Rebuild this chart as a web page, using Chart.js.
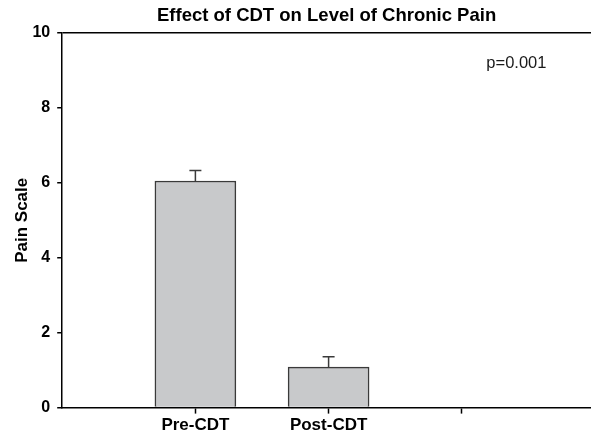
<!DOCTYPE html>
<html>
<head>
<meta charset="utf-8">
<script src="https://cdn.jsdelivr.net/npm/chart.js@4"></script>
<style>
html,body{margin:0;padding:0;background:#fff;overflow:hidden;}
#wrap{width:591px;height:438px;}
</style>
</head>
<body>
<div id="wrap"><canvas id="c"></canvas></div>
<script>
const categories = ['Pre-CDT', 'Post-CDT', ''];
const categoryPositions = [1, 2, 3];
const painMeans = [6.05, 1.08];
const painErrors = [0.28, 0.28];
const yTicks = [0, 2, 4, 6, 8, 10];
const pValueText = 'p=0.001';

const FONT = '"Liberation Sans", Arial, Helvetica, sans-serif';

const errorBars = {
  id: 'errorBars',
  afterDatasetsDraw(chart) {
    const ctx = chart.ctx;
    const ys = chart.scales.y;
    const meta = chart.getDatasetMeta(0);
    ctx.save();
    ctx.strokeStyle = '#3a3a3a';
    ctx.lineWidth = 1.5;
    meta.data.forEach((bar, i) => {
      const top = ys.getPixelForValue(painMeans[i] + painErrors[i]);
      ctx.beginPath();
      ctx.moveTo(bar.x, bar.y);
      ctx.lineTo(bar.x, top);
      ctx.moveTo(bar.x - 6, top);
      ctx.lineTo(bar.x + 6, top);
      ctx.stroke();
    });
    ctx.restore();
  }
};

const pLabel = {
  id: 'pLabel',
  afterDraw(chart) {
    const ctx = chart.ctx;
    const x = chart.scales.x.getPixelForValue(3.41);
    const y = chart.scales.y.getPixelForValue(9.2);
    ctx.save();
    ctx.font = '16.5px ' + FONT;
    ctx.fillStyle = '#1a1a1a';
    ctx.textAlign = 'center';
    ctx.textBaseline = 'middle';
    ctx.fillText(pValueText, x, y);
    ctx.restore();
  }
};

new Chart(document.getElementById('c'), {
  type: 'bar',
  data: {
    datasets: [{
      data: painMeans.map((v, i) => ({ x: categoryPositions[i], y: v })),
      backgroundColor: '#c8c9cb',
      borderColor: '#3a3a3a',
      borderWidth: 1.5,
      barThickness: 81
    }]
  },
  options: {
    responsive: true,
    maintainAspectRatio: false,
    animation: false,
    devicePixelRatio: 1,
    layout: { padding: { left: 0, right: 0, top: 0, bottom: 0 } },
    plugins: {
      legend: { display: false },
      tooltip: { enabled: false },
      title: {
        display: true,
        fullSize: false,
        text: 'Effect of CDT on Level of Chronic Pain',
        color: '#000',
        font: { family: FONT, size: 18.5, weight: 'bold' },
        padding: { top: 5, bottom: 5.8 }
      }
    },
    scales: {
      x: {
        type: 'linear',
        offset: false,
        min: 0,
        max: 3.97,
        afterBuildTicks(scale) {
          scale.ticks = categoryPositions.map(v => ({ value: v }));
        },
        ticks: {
          autoSkip: false,
          maxRotation: 0,
          color: '#000',
          padding: 2,
          font: { family: FONT, size: 17, weight: 'bold' },
          callback(value, index) { return categories[index]; }
        },
        grid: {
          offset: false,
          drawOnChartArea: false,
          drawTicks: true,
          tickLength: 6,
          tickColor: '#000',
          tickWidth: 1.5
        },
        border: { color: '#000', width: 1.5 }
      },
      y: {
        min: 0,
        max: 10,
        afterBuildTicks(scale) {
          scale.ticks = yTicks.map(v => ({ value: v }));
        },
        ticks: {
          color: '#000',
          padding: 7,
          font: { family: FONT, size: 16, weight: 'bold' }
        },
        grid: {
          color: (c) => (c.tick && c.tick.value === 10 ? '#000' : 'rgba(0,0,0,0)'),
          lineWidth: 1.5,
          drawTicks: true,
          tickLength: 5,
          tickColor: '#000',
          tickWidth: 1.5
        },
        border: { color: '#000', width: 1.5 },
        title: {
          display: true,
          text: 'Pain Scale',
          color: '#000',
          font: { family: FONT, size: 17, weight: 'bold' },
          padding: { top: 12, bottom: -7 }
        }
      }
    }
  },
  plugins: [errorBars, pLabel]
});
</script>
</body>
</html>
